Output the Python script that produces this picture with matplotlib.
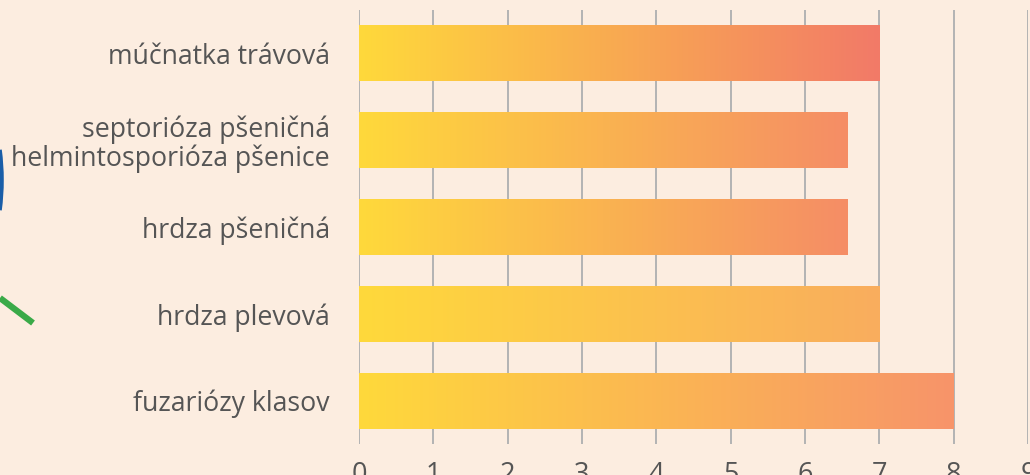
import numpy as np
import matplotlib.pyplot as plt
from matplotlib.colors import LinearSegmentedColormap
from matplotlib.patches import Arc
from matplotlib.lines import Line2D

# diseases, top to bottom
diseases = [
    "múčnatka trávová",
    "septorióza pšeničná\nhelmintosporióza pšenice",
    "hrdza pšeničná",
    "hrdza plevová",
    "fuzariózy klasov",
]
values = [7, 6.57, 6.57, 7, 8]
x_ticks = list(range(0, 10))

# end colour of each bar's gradient (starts yellow on the left)
start_color = "#ffd93b"
end_colors = ["#f27a68", "#f58d66", "#f58d66", "#f9ad5e", "#f7946a"]

bg = "#fcede0"
text_color = "#555555"

plt.rcParams["font.family"] = ["Open Sans", "DejaVu Sans"]

W, H = 1030, 475
fig = plt.figure(figsize=(W / 100, H / 100), dpi=100, facecolor=bg)
ax = fig.add_axes([359 / W, (H - 444) / H, (1028 - 359) / W, (444 - 10) / H])
ax.set_facecolor(bg)

y_pos = np.arange(len(diseases))[::-1]
bar_h = 0.645

gradient = np.linspace(0, 1, 256).reshape(1, -1)
for y, v, ec in zip(y_pos, values, end_colors):
    cmap = LinearSegmentedColormap.from_list("g", [start_color, ec])
    ax.imshow(gradient, cmap=cmap, aspect="auto", interpolation="bicubic",
              extent=(0, v, y - bar_h / 2, y + bar_h / 2), zorder=2)

ax.set_xlim(0, 9)
ax.set_ylim(-0.5, 4.5)
ax.set_xticks(x_ticks)
ax.set_xticklabels([str(t) for t in x_ticks])
ax.set_yticks(y_pos)
ax.set_yticklabels(diseases)
ax.grid(axis="x", color="#b3b3b3", linewidth=1.4, zorder=0)
ax.set_axisbelow(True)
for s in ax.spines.values():
    s.set_visible(False)
ax.tick_params(axis="y", length=0, pad=21, labelsize=19.2, labelcolor=text_color)
ax.tick_params(axis="x", length=0, pad=12, labelsize=19.5, labelcolor=text_color)
for lab in ax.get_yticklabels():
    lab.set_horizontalalignment("right")
    lab.set_multialignment("right")
    lab.set_linespacing(1.05)

# decorative shapes on the left edge (parts of a logo cut off by the frame)
r = 230
fig.add_artist(Arc(((1 - r) / W, 1 - 180 / H), 2 * r / W, 2 * r / H,
                   theta1=-16, theta2=16, transform=fig.transFigure,
                   color="#1a5ea8", linewidth=4))
fig.add_artist(Line2D([0, 33 / W], [1 - 298 / H, 1 - 323 / H],
                      transform=fig.transFigure, color="#3aaa48", linewidth=4.5,
                      solid_capstyle="butt"))

fig.savefig("out.png", dpi=100, facecolor=bg)
